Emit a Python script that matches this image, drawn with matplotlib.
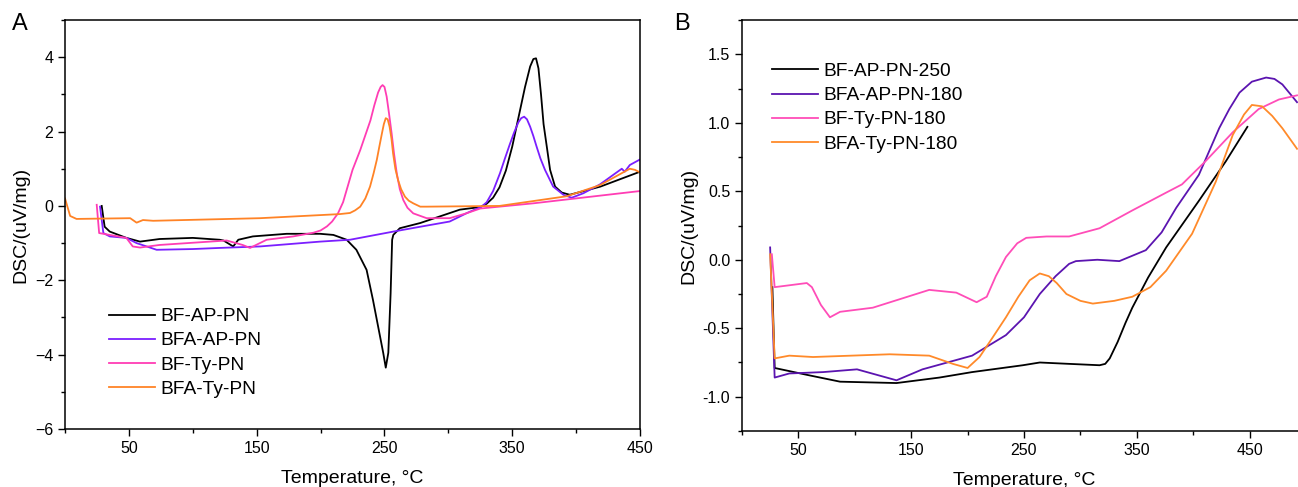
import matplotlib
matplotlib.use("Agg")
import matplotlib.pyplot as plt
from matplotlib.ticker import MultipleLocator, FormatStrFormatter

plt.rcParams['font.family'] = ['Liberation Sans', 'DejaVu Sans']

# ---- panel A data (temperature, DSC) ----
a_labels = ["BF-AP-PN", "BFA-AP-PN", "BF-Ty-PN", "BFA-Ty-PN"]
a_colors = ["#000000", "#7b1fff", "#ff3db4", "#ff8326"]

a_t_bf_ap = [28.7, 31, 35, 48, 58.7, 74, 100, 121, 124, 131.6, 135.6, 147, 173.5, 199.6, 210,
             220.4, 228, 236, 241, 245, 249, 251, 253, 254.8, 256, 256.9, 262, 278, 309, 325,
             330, 335, 340, 345, 350, 355, 360, 364, 366.5, 368.6, 370.5, 372.5, 374.5, 377, 379.6,
             383.5, 388.7, 395, 419, 450]
a_y_bf_ap = [0.0, -0.56, -0.69, -0.86, -0.96, -0.89, -0.86, -0.91, -0.93, -1.09, -0.91, -0.82, -0.75, -0.75, -0.78,
             -0.91, -1.18, -1.72, -2.53, -3.24, -3.95, -4.35, -3.95, -2.35, -0.91, -0.78, -0.6, -0.46, -0.1, -0.03,
             0.06, 0.22, 0.5, 0.95, 1.6, 2.4, 3.2, 3.75, 3.95, 3.97, 3.7, 3.0, 2.2, 1.6, 0.97,
             0.52, 0.36, 0.3, 0.52, 0.92]

a_t_bfa_ap = [27.4, 30, 35, 48, 56, 71.7, 100, 121, 152.6, 199.6, 223, 257, 278, 301, 314.6, 326,
              330, 335, 340.4, 344, 348, 351.5, 354.8, 357, 359.3, 361.5, 364, 366.5, 369, 372, 375.6,
              382, 390, 396.5, 405.6, 418.7, 435.7, 438, 442, 450]
a_y_bfa_ap = [-0.02, -0.73, -0.82, -0.86, -1.0, -1.18, -1.16, -1.13, -1.09, -0.96, -0.91, -0.69, -0.56, -0.42, -0.19, -0.02,
              0.1, 0.4, 0.88, 1.25, 1.65, 1.98, 2.25, 2.36, 2.4, 2.33, 2.13, 1.88, 1.6, 1.28, 0.97,
              0.52, 0.3, 0.22, 0.34, 0.58, 1.0, 0.92, 1.1, 1.25]

a_t_bf_ty = [24.8, 26.7, 35, 48, 53, 58.7, 74, 126.5, 139, 144.8, 157.8, 178.6, 194.5, 200, 205, 209,
             213.6, 217.6, 221, 225, 231, 235, 239, 242, 245, 247, 248.5, 250, 251.7, 253.5, 255.6,
             257.5, 259.6, 262, 264.7, 268, 272.5, 283, 301, 314, 325, 366.5, 450]
a_y_bf_ty = [0.03, -0.73, -0.78, -0.86, -1.09, -1.12, -1.05, -0.93, -1.05, -1.13, -0.91, -0.82, -0.72, -0.66, -0.55, -0.42,
             -0.2, 0.1, 0.5, 0.97, 1.5, 1.9, 2.3, 2.7, 3.05, 3.2, 3.25, 3.2, 2.94, 2.5, 1.95,
             1.4, 0.88, 0.45, 0.16, -0.05, -0.2, -0.33, -0.33, -0.2, -0.07, 0.07, 0.4]

a_t_bfa_ty = [0, 4, 9, 51, 56, 61, 69, 152.6, 215, 223, 227, 231, 235, 238.7, 241.5, 244, 246,
              248, 249.5, 251, 252.5, 254, 255.5, 256.7, 258.5, 260.6, 263, 266, 269, 272.5, 278, 283,
              340, 392.6, 418.7, 442, 446, 450]
a_y_bfa_ty = [0.2, -0.27, -0.35, -0.33, -0.45, -0.38, -0.4, -0.33, -0.22, -0.19, -0.12, -0.02, 0.2, 0.52, 0.88, 1.24, 1.6,
              1.95, 2.2, 2.36, 2.33, 2.13, 1.8, 1.42, 1.0, 0.7, 0.45, 0.25, 0.14, 0.07, -0.02, -0.02,
              0.0, 0.26, 0.56, 1.0, 0.97, 0.9]

# ---- panel B data ----
b_labels = ["BF-AP-PN-250", "BFA-AP-PN-180", "BF-Ty-PN-180", "BFA-Ty-PN-180"]
b_colors = ["#000000", "#5b14b0", "#ff4db8", "#ff8a2a"]

b_t_bf_ap = [27, 29, 57.5, 87, 137, 175, 204, 249, 264, 290, 317, 322, 326, 333, 340, 346, 360, 376, 405, 429, 448]
b_y_bf_ap = [-0.2, -0.79, -0.84, -0.89, -0.9, -0.86, -0.82, -0.77, -0.75, -0.76, -0.77, -0.76, -0.72, -0.6, -0.46, -0.35,
             -0.13, 0.09, 0.43, 0.72, 0.97]

b_t_bfa_ap = [25, 29, 42, 72, 102, 137, 160, 204, 234, 250, 264, 278, 290, 296, 315, 334.5, 358, 372, 385, 405, 423,
              432, 441, 452, 464.6, 472, 479, 492]
b_y_bfa_ap = [0.09, -0.86, -0.83, -0.82, -0.8, -0.88, -0.8, -0.7, -0.55, -0.42, -0.25, -0.12, -0.03, -0.01, 0.0, -0.01, 0.07,
              0.2, 0.38, 0.62, 0.96, 1.1, 1.22, 1.3, 1.33, 1.32, 1.28, 1.15]

b_t_bf_ty = [26.5, 29, 57.5, 62, 70, 78, 87, 116, 166, 190, 208, 217, 225, 234, 244, 252, 270, 290, 317, 346, 376, 390,
             411, 435, 458, 476, 492]
b_y_bf_ty = [0.04, -0.2, -0.17, -0.2, -0.33, -0.42, -0.38, -0.35, -0.22, -0.24, -0.31, -0.27, -0.12, 0.02, 0.12, 0.16, 0.17,
             0.17, 0.23, 0.36, 0.49, 0.55, 0.72, 0.93, 1.1, 1.17, 1.2]

b_t_bfa_ty = [25, 29, 42, 63, 131, 166, 187, 200, 210.6, 222, 234, 245, 255, 264, 272, 279, 287.6, 300, 311, 330, 346,
              362, 376, 399, 420, 435, 445, 452, 461, 470, 479, 492]
b_y_bfa_ty = [0.04, -0.72, -0.7, -0.71, -0.69, -0.7, -0.76, -0.79, -0.71, -0.57, -0.42, -0.27, -0.15, -0.1, -0.12, -0.17,
              -0.25, -0.3, -0.32, -0.3, -0.27, -0.2, -0.08, 0.19, 0.57, 0.91, 1.06, 1.13, 1.12, 1.05, 0.96, 0.81]

fig = plt.figure(figsize=(12.98, 4.87), dpi=100)
axA = fig.add_axes([0.0501, 0.1191, 0.4430, 0.8398])
axB = fig.add_axes([0.5716, 0.1150, 0.4346, 0.8439])

a_series = [(a_t_bf_ap, a_y_bf_ap), (a_t_bfa_ap, a_y_bfa_ap), (a_t_bf_ty, a_y_bf_ty), (a_t_bfa_ty, a_y_bfa_ty)]
b_series = [(b_t_bf_ap, b_y_bf_ap), (b_t_bfa_ap, b_y_bfa_ap), (b_t_bf_ty, b_y_bf_ty), (b_t_bfa_ty, b_y_bfa_ty)]

for (t, y), lab, c in zip(a_series, a_labels, a_colors):
    axA.plot(t, y, color=c, lw=1.3, label=lab)
for (t, y), lab, c in zip(b_series, b_labels, b_colors):
    axB.plot(t, y, color=c, lw=1.3, label=lab)

axA.set_xlim(0, 450)
axA.set_ylim(-6, 5)
axA.set_xticks([50, 150, 250, 350, 450])
axA.xaxis.set_minor_locator(MultipleLocator(50))
axA.yaxis.set_major_locator(MultipleLocator(2))
axA.yaxis.set_minor_locator(MultipleLocator(1))

axB.set_xlim(0, 500)
axB.set_ylim(-1.25, 1.75)
axB.set_xticks([50, 150, 250, 350, 450])
axB.xaxis.set_minor_locator(MultipleLocator(50))
axB.set_yticks([-1.0, -0.5, 0.0, 0.5, 1.0, 1.5])
axB.yaxis.set_minor_locator(MultipleLocator(0.25))
axB.yaxis.set_major_formatter(FormatStrFormatter('%.1f'))

for ax in (axA, axB):
    ax.tick_params(which='major', direction='out', length=5, width=1, labelsize=11.5)
    ax.tick_params(which='minor', direction='out', length=3, width=1)
    for s in ax.spines.values():
        s.set_linewidth(1.1)
    ax.set_xlabel("Temperature, °C", fontsize=14, labelpad=10)
    ax.set_ylabel("DSC/(uV/mg)", fontsize=14, labelpad=4)

axA.legend(loc='upper left', bbox_to_anchor=(0.076, 0.296), frameon=False, fontsize=13.8,
           handlelength=2.4, handletextpad=0.3, labelspacing=0.35, borderpad=0, borderaxespad=0)
axB.legend(loc='upper left', bbox_to_anchor=(0.053, 0.896), frameon=False, fontsize=13.8,
           handlelength=2.4, handletextpad=0.3, labelspacing=0.35, borderpad=0, borderaxespad=0)

fig.text(12 / 1298, 1 - 13 / 487, "A", fontsize=17, ha='left', va='top')
fig.text(674 / 1298, 1 - 13 / 487, "B", fontsize=17, ha='left', va='top')

fig.savefig("out.png", dpi=100)
